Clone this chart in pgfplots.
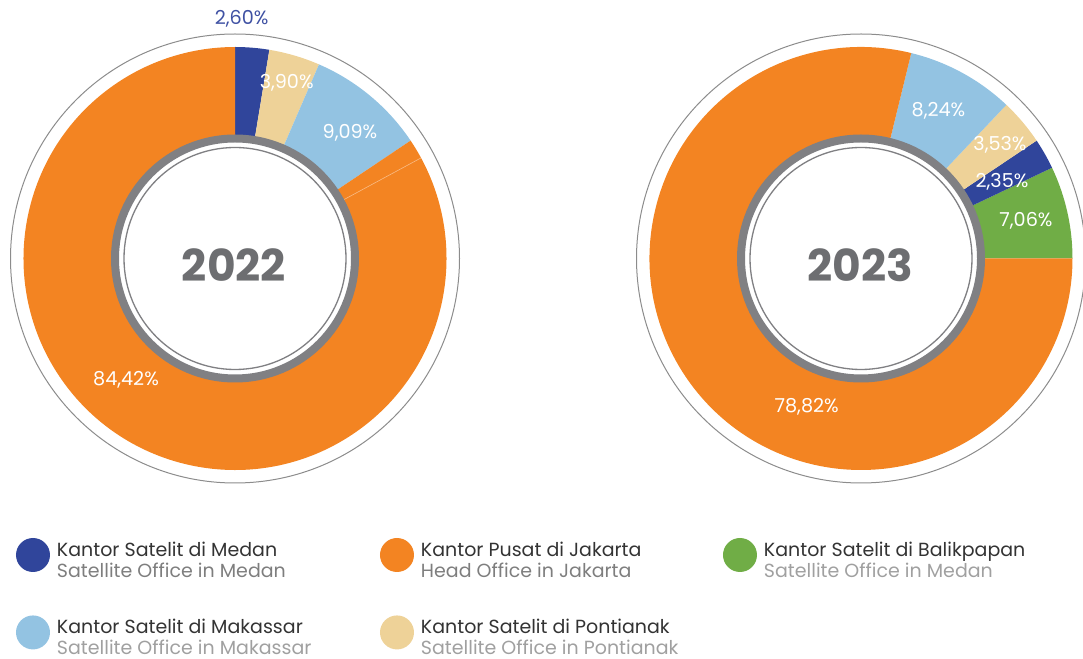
\documentclass[border=0pt]{standalone}
\usepackage{pgfplots}
\usepackage{pgfplotstable}
\pgfplotsset{compat=1.18}
\usepackage{fontspec}
\setmainfont{Poppins}

\definecolor{cBlue}{HTML}{30459B}
\definecolor{cTan}{HTML}{EED298}
\definecolor{cLBlue}{HTML}{93C3E2}
\definecolor{cOrange}{HTML}{F38422}
\definecolor{cGreen}{HTML}{70AD46}
\definecolor{cRing}{HTML}{808083}
\definecolor{cOuter}{HTML}{8C8C8C}
\definecolor{cYear}{HTML}{6D6E71}
\definecolor{cLabBlue}{HTML}{3F51A3}
\definecolor{cTxt}{HTML}{333333}
\definecolor{cTxtGray}{HTML}{7E7E7E}
\definecolor{cTxtLight}{HTML}{A0A0A0}

% 2022: clockwise from the top
\pgfplotstableread{
name value color
Medan 2.60 cBlue
Pontianak 3.90 cTan
Makassar 9.09 cLBlue
Jakarta 84.42 cOrange
}\dataA
% 2023: counter-clockwise from 3 o'clock
\pgfplotstableread{
name value color
Balikpapan 7.06 cGreen
Medan 2.35 cBlue
Pontianak 3.53 cTan
Makassar 8.24 cLBlue
Jakarta 78.82 cOrange
}\dataB

% radii (1px = 0.5pt)
\def\Rout{105.75pt}
\def\Rin{59pt}
\def\Rd{46.75pt}

\newcommand\buildslices[6]{%
  \pgfplotstablegetrowsof{#1}%
  \pgfmathtruncatemacro\nrows{\pgfplotsretval-1}%
  \xdef\curang{#2}%
  \gdef#6{}%
  \foreach \i in {0,...,\nrows}{%
    \pgfplotstablegetelem{\i}{value}\of{#1}\let\sliceval\pgfplotsretval
    \pgfplotstablegetelem{\i}{color}\of{#1}\let\slicecol\pgfplotsretval
    \pgfmathsetmacro\endang{\curang+#3*3.6*\sliceval}%
    \pgfmathsetmacro\backang{\endang+180}%
    \xdef#6{\unexpanded\expandafter{#6}\noexpand\fill[\slicecol] (axis cs:#4,#5) ++(\curang:\Rout) arc[start angle=\curang,end angle=\endang,radius=\Rout] -- ++(\backang:\Rd) arc[start angle=\endang,end angle=\curang,radius=\Rin] -- cycle;}%
    \xdef\curang{\endang}%
  }%
}
\buildslices{\dataA}{90}{-1}{235}{400.5}{\slicesA}
\buildslices{\dataB}{0}{1}{861}{400.5}{\slicesB}

\newcommand\centerdeco[1]{%
  \fill[white] (axis cs:#1,400.5) circle[radius=59pt];
  \draw[cRing, line width=4pt] (axis cs:#1,400.5) circle[radius=60pt];
  \draw[cRing, line width=0.65pt] (axis cs:#1,400.5) circle[radius=55.5pt];
  \draw[cOuter, line width=0.5pt] (axis cs:#1,400.5) circle[radius=112.25pt];
}
\newcommand\legtext[4]{\raisebox{6.5pt}{\parbox[t]{#1}{\color{cTxt}#2\\\color{#4}#3}}}

\begin{document}
\begin{tikzpicture}
\begin{axis}[
  x=0.5pt, y=0.5pt,
  xmin=0, xmax=1083, ymin=0, ymax=659,
  hide axis, clip=false,
  legend columns=3,
  legend image code/.code={\fill[#1, draw=none] (0pt,0pt) circle[radius=8.5pt];},
  legend style={
    at={(axis cs:16,121)}, anchor=north west,
    draw=none, fill=none, inner sep=0pt, outer sep=0pt,
    column sep=3.5pt, row sep=19pt,
    font=\fontsize{9.5}{10.4}\selectfont,
    nodes={inner sep=0pt, text depth=},
    cells={anchor=base west},
  },
]
\coordinate (bl) at (axis cs:0,0);
\coordinate (tr) at (axis cs:1083,659);

\slicesA
\slicesB
% faint seam inside the 2022 orange ring
\draw[white, opacity=0.45, line width=0.3pt] (axis cs:235,400.5) ++(28.4:62pt) -- ++(28.4:43.7pt);

\centerdeco{235}
\centerdeco{861}

\node[font=\fontsize{22}{22}\selectfont\bfseries, text=cYear] at (axis cs:234,393.7) {2022};
\node[font=\fontsize{22}{22}\selectfont\bfseries, text=cYear] at (axis cs:860.5,394) {2023};

\begin{scope}[every node/.style={font=\fontsize{9.6}{11}\selectfont, text=white}]
\node[text=cLabBlue] at (axis cs:241.7,640.7) {2,60\%};
\node at (axis cs:286.7,575.7) {3,90\%};
\node at (axis cs:350,525.7) {9,09\%};
\node at (axis cs:126,279) {84,42\%};
\node at (axis cs:938.5,548) {8,24\%};
\node at (axis cs:1000,514) {3,53\%};
\node at (axis cs:1002,477.3) {2,35\%};
\node at (axis cs:1026,438.3) {7,06\%};
\node at (axis cs:806.7,252.3) {78,82\%};
\end{scope}

\addlegendimage{fill=cBlue}
\addlegendentry{\legtext{158pt}{Kantor Satelit di Medan}{Satellite Office in Medan}{cTxtGray}}
\addlegendimage{fill=cOrange}
\addlegendentry{\legtext{147.5pt}{Kantor Pusat di Jakarta}{Head Office in Jakarta}{cTxtGray}}
\addlegendimage{fill=cGreen}
\addlegendentry{\legtext{140pt}{Kantor Satelit di Balikpapan}{Satellite Office in Medan}{cTxtLight}}
\addlegendimage{fill=cLBlue}
\addlegendentry{\legtext{158pt}{Kantor Satelit di Makassar}{Satellite Office in Makassar}{cTxtLight}}
\addlegendimage{fill=cTan}
\addlegendentry{\legtext{147.5pt}{Kantor Satelit di Pontianak}{Satellite Office in Pontianak}{cTxtLight}}
\end{axis}
\pgfresetboundingbox
\path[use as bounding box] (bl) rectangle (tr);
\end{tikzpicture}
\end{document}
